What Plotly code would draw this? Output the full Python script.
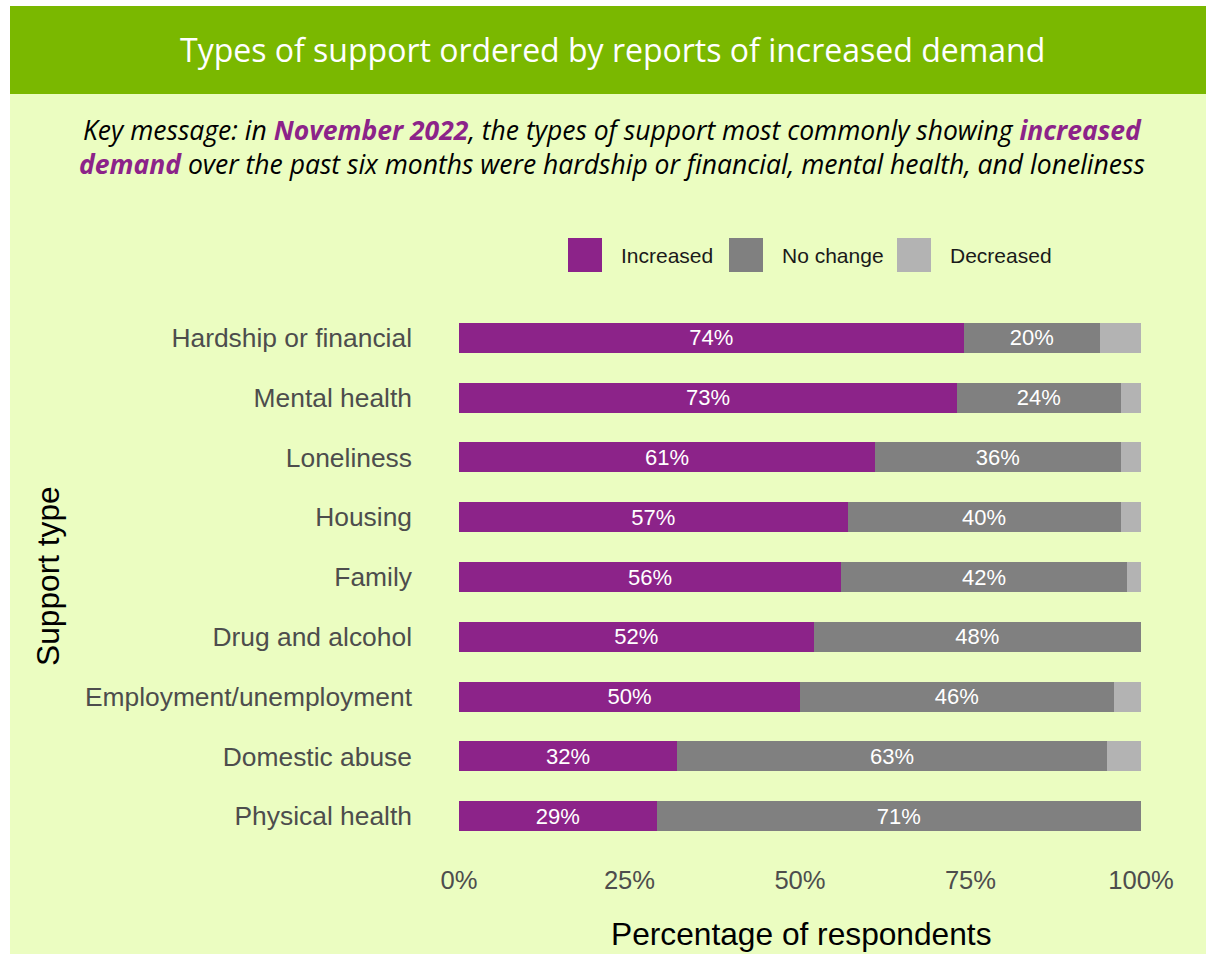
import plotly.graph_objects as go

# Survey results: share of respondents reporting each change in demand (%)
support_types = [
    "Hardship or financial", "Mental health", "Loneliness", "Housing", "Family",
    "Drug and alcohol", "Employment/unemployment", "Domestic abuse", "Physical health",
]
increased = [74, 73, 61, 57, 56, 52, 50, 32, 29]
no_change = [20, 24, 36, 40, 42, 48, 46, 63, 71]
decreased = [6, 3, 3, 3, 2, 0, 4, 5, 0]

x_ticks = [0, 25, 50, 75, 100]
x_tick_labels = ["0%", "25%", "50%", "75%", "100%"]

series_names = ["Increased", "No change", "Decreased"]
series_colors = ["#8C2389", "#808080", "#B3B3B3"]

W, H = 1206, 954
L, R, T, B = 459, 1141, 302, 852  # plot area in pixels


def px(x):
    return (x - L) / (R - L)


def py(y):
    return (B - y) / (B - T)


fig = go.Figure()
for name, vals, col, labelled in zip(
    series_names, [increased, no_change, decreased], series_colors, [True, True, False]
):
    fig.add_trace(go.Bar(
        y=support_types, x=vals, name=name, orientation="h",
        marker=dict(color=col, line=dict(width=0)),
        text=[f"{v}%" for v in vals] if labelled else None,
        textposition="inside" if labelled else "none",
        insidetextanchor="middle",
        textfont=dict(family="Liberation Sans", size=22, color="white"),
        constraintext="none",
        width=0.5,
        showlegend=False,
        hoverinfo="x+y+name",
    ))

shapes = [
    # page panel and header band
    dict(type="rect", xref="paper", yref="paper", x0=px(10), x1=px(W), y0=py(H), y1=py(6),
         fillcolor="#EBFDC1", line=dict(width=0), layer="below"),
    dict(type="rect", xref="paper", yref="paper", x0=px(10), x1=px(W), y0=py(94), y1=py(6),
         fillcolor="#7AB800", line=dict(width=0), layer="below"),
]

annotations = [
    dict(text="Types of support ordered by reports of increased demand",
         x=px(612), y=py(50), xref="paper", yref="paper", showarrow=False,
         xanchor="center", yanchor="middle",
         font=dict(family="Open Sans", size=32, color="white")),
    dict(text="<i>Key message: in <b><span style='color:#8C2389'>November 2022</span></b>, "
              "the types of support most commonly showing <b><span style='color:#8C2389'>increased"
              "<br>demand</span></b> over the past six months were hardship or financial, "
              "mental health, and loneliness</i>",
         x=px(612), y=py(147), xref="paper", yref="paper", showarrow=False,
         xanchor="center", yanchor="middle", align="center",
         font=dict(family="Open Sans", size=26.5, color="black")),
    dict(text="Support type", x=px(48), y=py(576), xref="paper", yref="paper",
         showarrow=False, textangle=-90, xanchor="center", yanchor="middle",
         font=dict(family="Liberation Sans", size=31.7, color="black")),
    dict(text="Percentage of respondents", x=px(801), y=py(934), xref="paper", yref="paper",
         showarrow=False, xanchor="center", yanchor="middle",
         font=dict(family="Liberation Sans", size=31.7, color="black")),
]

# legend: swatches with labels
legend_swatch_x = [568, 729, 897]
for name, col, sx in zip(series_names, series_colors, legend_swatch_x):
    shapes.append(dict(type="rect", xref="paper", yref="paper",
                       x0=px(sx), x1=px(sx + 34), y0=py(272), y1=py(238),
                       fillcolor=col, line=dict(width=0)))
    annotations.append(dict(text=name, x=px(sx + 51), y=py(255), xref="paper", yref="paper",
                            showarrow=False, xanchor="left", yanchor="middle",
                            font=dict(family="Liberation Sans", size=21, color="#1A1A1A")))

fig.update_layout(
    width=W, height=H,
    margin=dict(l=L, r=W - R, t=T, b=H - B, pad=0),
    barmode="stack",
    paper_bgcolor="white",
    plot_bgcolor="rgba(0,0,0,0)",
    shapes=shapes,
    annotations=annotations,
    xaxis=dict(range=[0, 100], tickvals=x_ticks, ticktext=x_tick_labels,
               showgrid=False, zeroline=False, showline=False, ticks="",
               ticklabelstandoff=10,
               tickfont=dict(family="Liberation Sans", size=25.6, color="#4D4D4D"),
               fixedrange=True),
    yaxis=dict(categoryorder="array", categoryarray=support_types,
               autorange=False, range=[8.6, -0.6],
               showgrid=False, zeroline=False, showline=False, ticks="",
               ticklabelstandoff=46,
               tickfont=dict(family="Liberation Sans", size=26.4, color="#4D4D4D"),
               fixedrange=True),
)

fig.write_html("out.html")
